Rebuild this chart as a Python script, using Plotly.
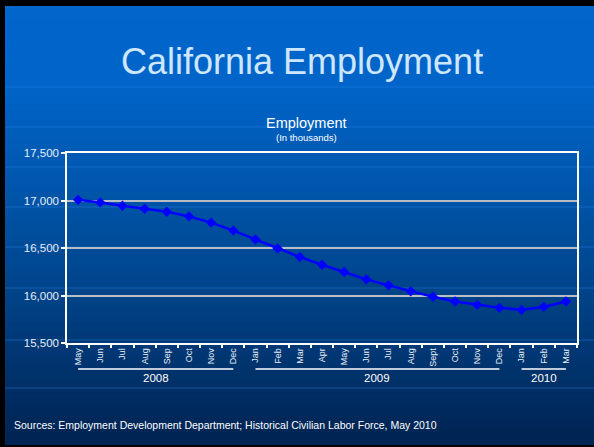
import plotly.graph_objects as go

# ---- data ----
months = ["May", "Jun", "Jul", "Aug", "Sep", "Oct", "Nov", "Dec",
          "Jan", "Feb", "Mar", "Apr", "May", "Jun", "Jul", "Aug", "Sept", "Oct", "Nov", "Dec",
          "Jan", "Feb", "Mar"]
years = [2008] * 8 + [2009] * 12 + [2010] * 3
employment = [17007, 16980, 16945, 16913, 16882, 16833, 16767, 16683,
              16590, 16496, 16405, 16324, 16248, 16170, 16107, 16044, 15987, 15937, 15901, 15870,
              15849, 15880, 15937]
year_labels = ["2008", "2009", "2010"]
y_ticks = [15500, 16000, 16500, 17000, 17500]

cats = [f"{m} {y}" for m, y in zip(months, years)]

W, H = 594, 447
ML, MR, MT, MB = 67, 17, 153, 104
PW, PH = W - ML - MR, H - MT - MB


def px_to_paper_x(px):
    return (px - ML) / PW


def px_to_paper_y(py):
    return (H - MB - py) / PH


def lerp(c1, c2, t):
    return tuple(round(a + (b - a) * t) for a, b in zip(c1, c2))


shapes = []
# background gradient
stops = [(0, (0, 102, 204)), (86, (0, 100, 200)), (200, (0, 84, 168)),
         (300, (0, 66, 134)), (447, (0, 34, 80))]
n = 90
for i in range(n):
    y0 = H * i / n
    y1 = H * (i + 1) / n
    ym = (y0 + y1) / 2
    for (a, ca), (b, cb) in zip(stops[:-1], stops[1:]):
        if a <= ym <= b:
            c = lerp(ca, cb, (ym - a) / (b - a))
            break
    shapes.append(dict(type="rect", xref="paper", yref="paper", layer="below",
                       x0=px_to_paper_x(-2), x1=px_to_paper_x(W + 2),
                       y0=px_to_paper_y(y1 + 1.5), y1=px_to_paper_y(y0),
                       fillcolor="rgb(%d,%d,%d)" % c, line=dict(width=0)))
# faint globe latitude lines
for ly in [87, 127, 167, 207, 247, 288, 340, 388]:
    shapes.append(dict(type="line", xref="paper", yref="paper", layer="below",
                       x0=px_to_paper_x(0), x1=px_to_paper_x(W),
                       y0=px_to_paper_y(ly), y1=px_to_paper_y(ly),
                       line=dict(color="rgba(40,130,230,0.45)", width=1.2)))
# black frame edges (top, left, bottom)
shapes.append(dict(type="rect", xref="paper", yref="paper", layer="above",
                   x0=px_to_paper_x(0), x1=px_to_paper_x(W),
                   y0=px_to_paper_y(6), y1=px_to_paper_y(0),
                   fillcolor="black", line=dict(width=0)))
shapes.append(dict(type="rect", xref="paper", yref="paper", layer="above",
                   x0=px_to_paper_x(0), x1=px_to_paper_x(5),
                   y0=px_to_paper_y(H), y1=px_to_paper_y(0),
                   fillcolor="black", line=dict(width=0)))
shapes.append(dict(type="rect", xref="paper", yref="paper", layer="above",
                   x0=px_to_paper_x(0), x1=px_to_paper_x(W),
                   y0=px_to_paper_y(H), y1=px_to_paper_y(H - 2),
                   fillcolor="black", line=dict(width=0)))

# year group lines and labels
annotations = []
for yl in year_labels:
    idx = [i for i, y in enumerate(years) if str(y) == yl]
    shapes.append(dict(type="line", xref="x", yref="paper",
                       x0=idx[0], x1=idx[-1],
                       y0=px_to_paper_y(369), y1=px_to_paper_y(369),
                       line=dict(color="white", width=1.5)))
    annotations.append(dict(text=yl, xref="x", yref="paper",
                            x=(idx[0] + idx[-1]) / 2, y=px_to_paper_y(378),
                            showarrow=False, yanchor="middle",
                            font=dict(family="Liberation Sans, Arial", size=11.5, color="white")))

annotations.append(dict(text="California Employment", xref="paper", yref="paper",
                        x=px_to_paper_x(302), y=px_to_paper_y(61), showarrow=False,
                        yanchor="middle",
                        font=dict(family="Liberation Sans, Arial", size=36, color="#cfe6ff")))
annotations.append(dict(text="Employment", xref="paper", yref="paper",
                        x=px_to_paper_x(306), y=px_to_paper_y(123), showarrow=False,
                        yanchor="middle",
                        font=dict(family="Liberation Sans, Arial", size=14.5, color="white")))
annotations.append(dict(text="(In thousands)", xref="paper", yref="paper",
                        x=px_to_paper_x(306.5), y=px_to_paper_y(137), showarrow=False,
                        yanchor="middle",
                        font=dict(family="Liberation Sans, Arial", size=9.5, color="white")))
annotations.append(dict(text="Sources: Employment Development Department; Historical Civilian Labor Force, May 2010",
                        xref="paper", yref="paper",
                        x=px_to_paper_x(12), y=px_to_paper_y(425), showarrow=False,
                        xanchor="left", yanchor="middle",
                        font=dict(family="Liberation Sans, Arial", size=10.5, color="white")))

fig = go.Figure()
fig.add_trace(go.Scatter(
    x=cats, y=employment, mode="lines+markers",
    line=dict(color="#0000ff", width=2.5),
    marker=dict(symbol="diamond", size=8, color="#0000ff"),
    showlegend=False, hoverinfo="x+y"))

fig.update_layout(
    width=W, height=H,
    margin=dict(l=ML, r=MR, t=MT, b=MB),
    paper_bgcolor="#004488",
    plot_bgcolor="rgba(0,0,0,0)",
    shapes=shapes,
    annotations=annotations,
    xaxis=dict(type="category", tickmode="array", tickvals=cats, ticktext=months,
               tickson="boundaries", ticks="outside", ticklen=3, tickwidth=1.5,
               tickcolor="white", tickangle=-90,
               tickfont=dict(family="Liberation Sans Narrow, Liberation Sans, Arial", size=9, color="#e8eef8"),
               showgrid=False, showline=True, linecolor="white", linewidth=1.5,
               mirror=True, zeroline=False, range=[-0.5, len(cats) - 0.5]),
    yaxis=dict(range=[15500, 17500], tickvals=y_ticks,
               ticktext=[f"{v:,}" for v in y_ticks],
               ticks="outside", ticklen=4, tickwidth=1.5, tickcolor="white",
               tickfont=dict(family="Liberation Sans, Arial", size=11.5, color="#e8eef8"),
               showgrid=True, gridcolor="#b8bcc4", gridwidth=1.5,
               showline=True, linecolor="white", linewidth=1.5, mirror=True,
               zeroline=False),
)

fig.write_html("out.html", config={"displayModeBar": False},
               post_script="document.body.style.margin='0px';document.body.style.overflow='hidden';")
